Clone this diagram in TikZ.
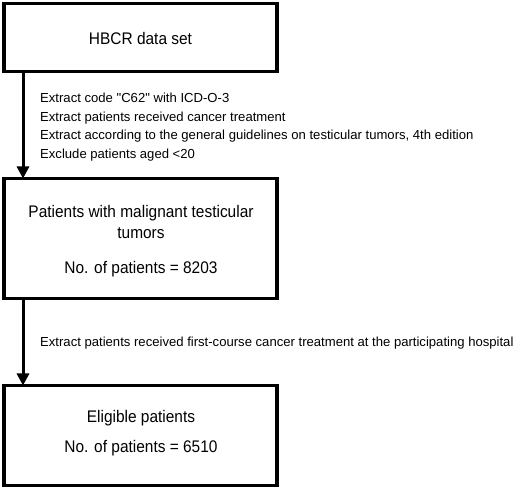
\documentclass[tikz,border=0pt]{standalone}
\usepackage{fontspec}
\setmainfont{Liberation Sans}
\newfontfamily\plainsans{Liberation Sans}
\newfontfamily\narrowsans[FakeStretch=0.92]{Liberation Sans}
\usetikzlibrary{arrows.meta,positioning}
\begin{document}
\begin{tikzpicture}[x=1pt,y=-1pt,
  box/.style={draw,line width=3.5pt,inner sep=0pt},
  boxtext/.style={font=\narrowsans\fontsize{16.8}{20.5}\selectfont,align=center},
  lbl/.style={font=\plainsans\fontsize{13.1}{18.6}\selectfont,align=left,anchor=west,inner sep=0pt},
  arr/.style={line width=3pt,-{Triangle[length=12pt,width=12pt]}}]
\useasboundingbox (0,0) rectangle (520,489);
\node[box,minimum width=273pt,minimum height=68pt] (b1) at (140.5,37.5) {};
\node[boxtext] (t1) at (140.5,38) {HBCR data set};
\node[box,minimum width=273pt,minimum height=120pt] (b2) at (140.5,238.5) {};
\node[boxtext] (t2) at (141,222) {Patients with malignant testicular\\tumors};
\node[boxtext] (t2b) at (141,269) {No. of patients = 8203};
\node[box,minimum width=273pt,minimum height=100pt] (b3) at (140.5,435.5) {};
\node[boxtext] (t3) at (141,418) {Eligible patients};
\node[boxtext] (t3b) at (141,448) {No. of patients = 6510};
\coordinate (a1s) at (23,71.5);
\coordinate (a1e) at (23,178.5);
\coordinate (a2s) at (23,298.5);
\coordinate (a2e) at (23,385.5);
\draw[arr] (a1s) -- (a1e);
\draw[arr] (a2s) -- (a2e);
\node[lbl] (l1) at (40,127) {Extract code "C62" with ICD-O-3\\Extract patients received cancer treatment\\Extract according to the general guidelines on testicular tumors, 4th edition\\Exclude patients aged <20};
\node[lbl] (l2) at (40,343) {Extract patients received first-course cancer treatment at the participating hospital};
\end{tikzpicture}
\end{document}
